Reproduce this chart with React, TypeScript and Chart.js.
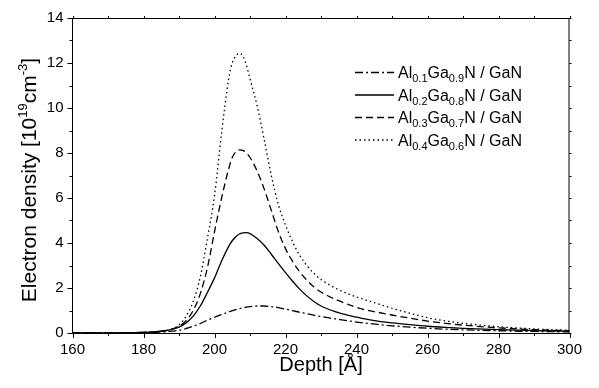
import { useEffect, useRef } from 'react';
import { Chart, registerables } from 'chart.js';

Chart.register(...registerables);

const depth = [160, 170, 175, 180, 183, 186, 188, 190, 192, 194, 196, 198, 200, 202, 204, 205, 206, 207, 208, 209, 210, 212, 214, 216, 218, 220, 222, 224, 226, 228, 230, 234, 238, 242, 246, 250, 255, 260, 265, 270, 280, 290, 300];

const al01 = [0, 0, 0.003, 0.01, 0.025, 0.05, 0.08, 0.12, 0.2, 0.3, 0.42, 0.57, 0.7, 0.82, 0.94, 0.99, 1.04, 1.08, 1.12, 1.15, 1.17, 1.2, 1.2, 1.17, 1.13, 1.06, 0.99, 0.92, 0.86, 0.79, 0.73, 0.63, 0.53, 0.45, 0.38, 0.32, 0.26, 0.21, 0.17, 0.14, 0.1, 0.07, 0.05];

const al02 = [0, 0.003, 0.01, 0.03, 0.05, 0.1, 0.16, 0.26, 0.45, 0.75, 1.2, 1.8, 2.45, 3.2, 3.85, 4.1, 4.28, 4.4, 4.45, 4.46, 4.42, 4.2, 3.9, 3.5, 3.08, 2.68, 2.3, 1.95, 1.65, 1.4, 1.2, 0.95, 0.77, 0.64, 0.53, 0.45, 0.37, 0.3, 0.25, 0.21, 0.15, 0.11, 0.08];

const al03 = [0, 0.003, 0.01, 0.03, 0.05, 0.1, 0.17, 0.3, 0.55, 1.0, 1.75, 2.9, 4.5, 6.0, 7.3, 7.8, 8.05, 8.14, 8.12, 8.0, 7.8, 7.2, 6.4, 5.45, 4.5, 3.75, 3.18, 2.72, 2.35, 2.05, 1.82, 1.5, 1.25, 1.05, 0.92, 0.8, 0.66, 0.53, 0.43, 0.35, 0.23, 0.15, 0.1];

const al04 = [0, 0.003, 0.01, 0.03, 0.05, 0.1, 0.18, 0.35, 0.75, 1.4, 2.5, 4.2, 6.1, 8.9, 11.3, 12.0, 12.3, 12.43, 12.3, 11.9, 11.3, 10.1, 8.6, 7.0, 5.7, 4.8, 4.05, 3.45, 3.0, 2.65, 2.38, 2.0, 1.72, 1.5, 1.3, 1.1, 0.88, 0.68, 0.54, 0.43, 0.28, 0.18, 0.12];

const alFractions = ['0.1', '0.2', '0.3', '0.4'];
const gaFractions = ['0.9', '0.8', '0.7', '0.6'];
const seriesValues = [al01, al02, al03, al04];
const seriesDashes = [[8, 3, 2, 3], [], [7, 4], [1.5, 3]];

const xMin = 160, xMax = 300, xMajor = 20, xMinor = 10;
const yMin = 0, yMax = 14, yMajor = 2, yMinor = 1;

const FONT = '"Liberation Sans", Arial, sans-serif';

type Run = { t: string; mode?: 'sub' | 'sup' };

function drawRuns(ctx: CanvasRenderingContext2D, x: number, y: number, runs: Run[], size: number, smallSize: number, measureOnly = false): number {
  let cx = x;
  for (const r of runs) {
    ctx.font = `${r.mode ? smallSize : size}px ${FONT}`;
    const dy = r.mode === 'sub' ? size * 0.25 : r.mode === 'sup' ? -size * 0.42 : 0;
    if (!measureOnly) ctx.fillText(r.t, cx, y + dy);
    cx += ctx.measureText(r.t).width;
  }
  return cx - x;
}

const decorPlugin = {
  id: 'decor',
  afterDraw(chart: any) {
    const { ctx, chartArea } = chart;
    const xs = chart.scales.x;
    const ys = chart.scales.y;
    const { left, right, top, bottom } = chartArea;
    ctx.save();
    ctx.strokeStyle = '#000';
    ctx.fillStyle = '#000';
    ctx.lineWidth = 1;
    // frame
    ctx.beginPath();
    ctx.moveTo(left, top + 0.5);
    ctx.lineTo(right, top + 0.5);
    ctx.moveTo(right - 0.5, top);
    ctx.lineTo(right - 0.5, bottom);
    ctx.stroke();
    // ticks
    ctx.beginPath();
    for (let v = xMin; v <= xMax; v += xMinor) {
      const px = Math.round(xs.getPixelForValue(v)) + 0.5;
      const major = (v - xMin) % xMajor === 0;
      ctx.moveTo(px, bottom);
      ctx.lineTo(px, bottom + (major ? 5 : 3));
      ctx.moveTo(px, top);
      ctx.lineTo(px, top - 2);
    }
    for (let v = yMin; v <= yMax; v += yMinor) {
      const py = Math.round(ys.getPixelForValue(v)) + 0.5;
      const major = (v - yMin) % yMajor === 0;
      ctx.moveTo(left, py);
      ctx.lineTo(left - (major ? 5 : 3), py);
      ctx.moveTo(right, py);
      ctx.lineTo(right + 2, py);
    }
    ctx.stroke();

    // legend
    const rowY = [72, 94.5, 117, 139.5];
    ctx.textBaseline = 'alphabetic';
    ctx.textAlign = 'left';
    for (let i = 0; i < 4; i++) {
      const cy = rowY[i];
      ctx.save();
      ctx.lineWidth = 1.3;
      ctx.setLineDash(seriesDashes[i]);
      ctx.beginPath();
      ctx.moveTo(355, cy + 0.5);
      ctx.lineTo(394, cy + 0.5);
      ctx.stroke();
      ctx.restore();
      drawRuns(ctx, 398, cy + 6, [
        { t: 'Al' }, { t: alFractions[i], mode: 'sub' }, { t: 'Ga' }, { t: gaFractions[i], mode: 'sub' }, { t: 'N / GaN' },
      ], 16, 11);
    }

    // y title
    const titleRuns: Run[] = [{ t: 'Electron density [10' }, { t: '19', mode: 'sup' }, { t: 'cm' }, { t: '-3', mode: 'sup' }, { t: ']' }];
    ctx.save();
    ctx.translate(28.5, 180);
    ctx.rotate(-Math.PI / 2);
    const w = drawRuns(ctx, 0, 0, titleRuns, 21, 13, true);
    drawRuns(ctx, -w / 2, 7.5, titleRuns, 21, 13);
    ctx.restore();

    ctx.restore();
  },
};

export default function App() {
  const ref = useRef<HTMLCanvasElement>(null);
  useEffect(() => {
    document.body.style.margin = '0';
    if (!ref.current) return;
    const chart = new Chart(ref.current, {
      type: 'line',
      data: {
        datasets: seriesValues.map((vals, i) => ({
          label: `Al${alFractions[i]}Ga${gaFractions[i]}N / GaN`,
          data: depth.map((d, j) => ({ x: d, y: vals[j] })),
          borderColor: '#000',
          borderWidth: 1.3,
          borderDash: seriesDashes[i],
          pointRadius: 0,
          fill: false,
          cubicInterpolationMode: 'monotone' as const,
        })),
      },
      options: {
        animation: false,
        responsive: true,
        maintainAspectRatio: false,
        layout: { padding: { top: 14, right: 29.5, left: 0, bottom: 0 } },
        plugins: { legend: { display: false }, tooltip: { enabled: false } },
        scales: {
          x: {
            type: 'linear',
            min: xMin,
            max: xMax,
            afterFit: (s: any) => { s.height = 55; },
            ticks: { stepSize: xMajor, color: '#000', font: { family: FONT, size: 15 }, padding: 8, maxRotation: 0 },
            grid: { drawOnChartArea: false, drawTicks: false },
            border: { display: true, color: '#000', width: 1 },
            title: { display: true, text: 'Depth [Å]', color: '#000', font: { family: FONT, size: 20 }, padding: { top: 0, bottom: 11 } },
          },
          y: {
            type: 'linear',
            min: yMin,
            max: yMax,
            afterFit: (s: any) => { s.width = 72.5; },
            ticks: { stepSize: yMajor, color: '#000', font: { family: FONT, size: 15 }, padding: 9 },
            grid: { drawOnChartArea: false, drawTicks: false },
            border: { display: true, color: '#000', width: 1 },
          },
        },
      },
      plugins: [decorPlugin],
    });
    return () => chart.destroy();
  }, []);
  return (
    <div style={{ width: 599, height: 388, position: 'relative', background: '#fff' }}>
      <canvas ref={ref} />
    </div>
  );
}
